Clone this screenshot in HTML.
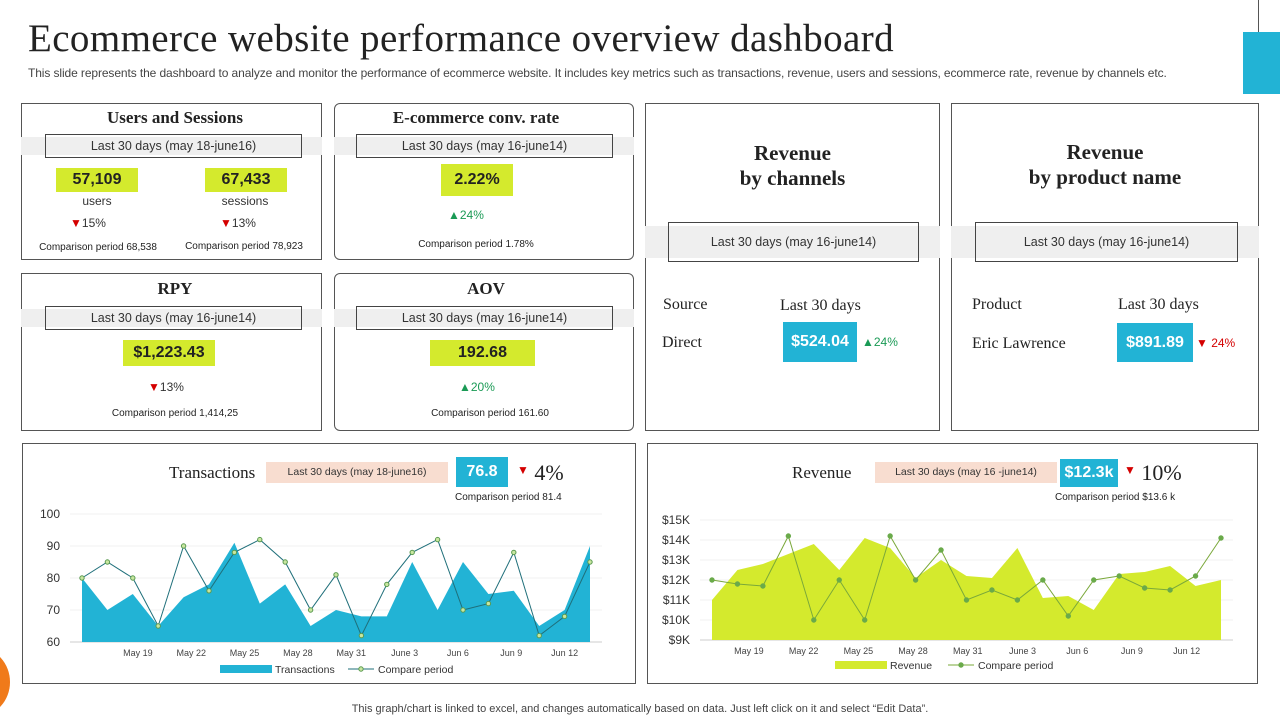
<!DOCTYPE html>
<html><head><meta charset="utf-8">
<style>
*{box-sizing:border-box;margin:0;padding:0}
body{width:1280px;height:720px;background:#fff;position:relative;overflow:hidden;font-family:"Liberation Sans",sans-serif;color:#222}
.a{position:absolute}
.serif{font-family:"Liberation Serif",serif}
.card{position:absolute;border:1px solid #555;background:#fff}
.band{position:absolute;background:#efefef;height:18px}
.dbox{position:absolute;border:1px solid #444;height:24px;font-size:12.5px;color:#333;text-align:center;line-height:22px;background:transparent}
.val{position:absolute;background:#d4ea2d;font-weight:bold;font-size:16px;text-align:center;color:#222}
.blue{position:absolute;background:#22b3d5;color:#fff;font-weight:bold;font-size:16px;text-align:center}
.small{position:absolute;font-size:10px;color:#222;text-align:center}
.up{color:#1a9a55}.dn{color:#d40000}
</style></head><body>
<div class="a serif" style="left:28px;top:16px;font-size:39px;letter-spacing:0.4px;color:#222">Ecommerce website performance overview dashboard</div>
<div class="a" style="left:28px;top:66px;font-size:12px;letter-spacing:-0.1px;color:#444">This slide represents the dashboard to analyze and monitor the performance of ecommerce website. It includes key metrics such as transactions, revenue, users and sessions, ecommerce rate, revenue by channels etc.</div>
<div class="a" style="left:1258px;top:-2px;width:30px;height:36px;border:1px solid #555"></div>
<div class="a" style="left:1243px;top:32px;width:40px;height:62px;background:#22b3d5"></div>
<div class="a" style="left:-52px;top:648px;width:62px;height:68px;border-radius:50%;background:#f07a1a"></div>

<!-- Users and sessions -->
<div class="card" style="left:21px;top:103px;width:301px;height:157px"></div>
<div class="a serif" style="left:21px;top:108px;width:308px;text-align:center;font-weight:bold;font-size:17px">Users and Sessions</div>
<div class="band" style="left:21px;top:137px;width:301px"></div>
<div class="dbox" style="left:45px;top:134px;width:257px">Last 30 days (may 18-june16)</div>
<div class="val" style="left:56px;top:168px;width:82px;height:24px;line-height:24px">57,109</div>
<div class="small" style="left:56px;top:194px;width:82px;font-size:12px;color:#333">users</div>
<div class="a" style="left:70px;top:216px;font-size:12px;color:#333"><span class="dn">▼</span>15%</div>
<div class="small" style="left:28px;top:242px;width:140px">Comparison period 68,538</div>
<div class="val" style="left:205px;top:168px;width:82px;height:24px;line-height:24px">67,433</div>
<div class="small" style="left:200px;top:194px;width:90px;font-size:12px;color:#333">sessions</div>
<div class="a" style="left:220px;top:216px;font-size:12px;color:#333"><span class="dn">▼</span>13%</div>
<div class="small" style="left:176px;top:241px;width:136px">Comparison period 78,923</div>

<!-- Conv rate -->
<div class="card" style="left:334px;top:103px;width:300px;height:157px;border-radius:6px"></div>
<div class="a serif" style="left:334px;top:108px;width:284px;text-align:center;font-weight:bold;font-size:17px">E-commerce conv. rate</div>
<div class="band" style="left:334px;top:137px;width:300px"></div>
<div class="dbox" style="left:356px;top:134px;width:257px">Last 30 days (may 16-june14)</div>
<div class="val" style="left:441px;top:164px;width:72px;height:32px;line-height:32px">2.22%</div>
<div class="a up" style="left:448px;top:208px;font-size:12px">▲24%</div>
<div class="small" style="left:396px;top:239px;width:160px">Comparison period 1.78%</div>

<!-- RPY -->
<div class="card" style="left:21px;top:273px;width:301px;height:158px"></div>
<div class="a serif" style="left:21px;top:279px;width:308px;text-align:center;font-weight:bold;font-size:17px">RPY</div>
<div class="band" style="left:21px;top:309px;width:301px"></div>
<div class="dbox" style="left:45px;top:306px;width:257px">Last 30 days (may 16-june14)</div>
<div class="val" style="left:123px;top:340px;width:92px;height:26px;line-height:26px">$1,223.43</div>
<div class="a" style="left:148px;top:380px;font-size:12px;color:#333"><span class="dn">▼</span>13%</div>
<div class="small" style="left:90px;top:408px;width:170px">Comparison period 1,414,25</div>

<!-- AOV -->
<div class="card" style="left:334px;top:273px;width:300px;height:158px;border-radius:6px"></div>
<div class="a serif" style="left:334px;top:279px;width:304px;text-align:center;font-weight:bold;font-size:17px">AOV</div>
<div class="band" style="left:334px;top:309px;width:300px"></div>
<div class="dbox" style="left:356px;top:306px;width:257px">Last 30 days (may 16-june14)</div>
<div class="val" style="left:430px;top:340px;width:105px;height:26px;line-height:26px">192.68</div>
<div class="a up" style="left:459px;top:380px;font-size:12px">▲20%</div>
<div class="small" style="left:410px;top:408px;width:160px">Comparison period 161.60</div>

<!-- Revenue by channels -->
<div class="card" style="left:645px;top:103px;width:295px;height:328px"></div>
<div class="a serif" style="left:645px;top:141px;width:295px;text-align:center;font-weight:bold;font-size:21px;line-height:25px">Revenue<br>by channels</div>
<div class="band" style="left:645px;top:226px;width:295px;height:32px"></div>
<div class="dbox" style="left:668px;top:222px;width:251px;height:40px;line-height:38px">Last 30 days (may 16-june14)</div>
<div class="a serif" style="left:663px;top:296px;font-size:16px">Source</div>
<div class="a serif" style="left:780px;top:297px;font-size:16px">Last 30 days</div>
<div class="a serif" style="left:662px;top:334px;font-size:16px">Direct</div>
<div class="blue" style="left:783px;top:322px;width:74px;height:40px;line-height:40px">$524.04</div>
<div class="a up" style="left:862px;top:335px;font-size:12px">▲24%</div>

<!-- Revenue by product -->
<div class="card" style="left:951px;top:103px;width:308px;height:328px"></div>
<div class="a serif" style="left:951px;top:140px;width:308px;text-align:center;font-weight:bold;font-size:21px;line-height:25px">Revenue<br>by product name</div>
<div class="band" style="left:951px;top:226px;width:308px;height:32px"></div>
<div class="dbox" style="left:975px;top:222px;width:263px;height:40px;line-height:38px">Last 30 days (may 16-june14)</div>
<div class="a serif" style="left:972px;top:296px;font-size:16px">Product</div>
<div class="a serif" style="left:1118px;top:296px;font-size:16px">Last 30 days</div>
<div class="a serif" style="left:972px;top:335px;font-size:16px">Eric Lawrence</div>
<div class="blue" style="left:1117px;top:323px;width:76px;height:39px;line-height:39px">$891.89</div>
<div class="a dn" style="left:1196px;top:336px;font-size:12px">▼ 24%</div>

<!-- Transactions chart card -->
<div class="card" style="left:22px;top:443px;width:614px;height:241px"></div>
<div class="a serif" style="left:169px;top:463px;font-size:17px">Transactions</div>
<div class="a" style="left:266px;top:462px;width:182px;height:21px;background:#f8ddd0;font-size:10.5px;line-height:21px;text-align:center;color:#333">Last 30 days (may 18-june16)</div>
<div class="blue" style="left:456px;top:457px;width:52px;height:30px;line-height:30px">76.8</div>
<div class="a serif" style="left:517px;top:460px;font-size:22px"><span class="dn" style="font-size:12px;vertical-align:6px">▼</span> 4%</div>
<div class="small" style="left:455px;top:492px;width:120px;text-align:left">Comparison period 81.4</div>

<!-- Revenue chart card -->
<div class="card" style="left:647px;top:443px;width:611px;height:241px"></div>
<div class="a serif" style="left:792px;top:463px;font-size:17px">Revenue</div>
<div class="a" style="left:875px;top:462px;width:182px;height:21px;background:#f8ddd0;font-size:10.5px;line-height:21px;text-align:center;color:#333">Last 30 days (may 16 -june14)</div>
<div class="blue" style="left:1060px;top:459px;width:58px;height:28px;line-height:28px">$12.3k</div>
<div class="a serif" style="left:1124px;top:460px;font-size:22px"><span class="dn" style="font-size:12px;vertical-align:6px">▼</span> 10%</div>
<div class="small" style="left:1055px;top:492px;width:140px;text-align:left">Comparison period $13.6 k</div>

<svg id="charts" class="a" style="left:0;top:0" width="1280" height="720"></svg>

<div class="a" style="left:0;top:703px;width:1280px;text-align:center;font-size:11px;color:#444">This graph/chart is linked to excel,  and changes automatically based on data. Just left click on it and select “Edit Data”.</div>

<script>
const txnValues=[80,70,75,65,74,78,91,72,78,65,70,68,68,85,70,85,75,76,65,70,90];
const txnCompare=[80,85,80,65,90,76,88,92,85,70,81,62,78,88,92,70,72,88,62,68,85];
const txnTicks=[60,70,80,90,100];
const revValues=[11.0,12.5,12.8,13.3,13.8,12.5,14.1,13.6,12.1,13.0,12.2,12.1,13.6,11.1,11.2,10.5,12.3,12.4,12.7,11.7,12.0];
const revCompare=[12.0,11.8,11.7,14.2,10.0,12.0,10.0,14.2,12.0,13.5,11.0,11.5,11.0,12.0,10.2,12.0,12.2,11.6,11.5,12.2,14.1];
const revTicks=[9,10,11,12,13,14,15];
const dateLabels=["May 19","May 22","May 25","May 28","May 31","June 3","Jun 6","Jun 9","Jun 12"];

const svg=document.getElementById('charts');
const NS='http://www.w3.org/2000/svg';
function mk(tag,attrs){const e=document.createElementNS(NS,tag);for(const k in attrs)e.setAttribute(k,attrs[k]);svg.appendChild(e);return e;}

function drawChart(o){
  const n=o.values.length;
  const xs=i=>o.x0+(o.x1-o.x0)*i/(n-1);
  const ys=v=>o.yb+(o.yt-o.yb)*(v-o.min)/(o.max-o.min);
  o.ticks.forEach(t=>{
    const g=mk('line',{x1:o.gx0,x2:o.gx1,y1:ys(t),y2:ys(t),stroke:t===o.min?'#ccc':'#f0f0f0','stroke-width':1});
    
    
    const tl=mk('text',{x:o.tx,y:ys(t)+4,'text-anchor':'end','font-size':12,fill:'#333','font-family':'Liberation Sans, sans-serif'});
    tl.textContent=o.fmt(t);
    
    
  });
  let d='M'+xs(0)+','+ys(o.min);
  o.values.forEach((v,i)=>d+=' L'+xs(i)+','+ys(v));
  d+=' L'+xs(n-1)+','+ys(o.min)+' Z';
  const area=mk('path',{d:d,fill:o.color});
  
  
  const pts=o.compare.map((v,i)=>xs(i)+','+ys(v)).join(' ');
  const line=mk('polyline',{points:pts,fill:'none',stroke:o.lineColor,'stroke-width':1});
  
  
  o.compare.forEach((v,i)=>{
    const c=mk('circle',{cx:xs(i),cy:ys(v),r:2.2,fill:o.dotFill,stroke:o.dotStroke,'stroke-width':1});
    
    
  });
  dateLabels.forEach((lab,k)=>{
    const t=mk('text',{x:xs(o.lab0+o.labStep*k),y:o.yb+14,'text-anchor':'middle','font-size':9,fill:'#444','font-family':'Liberation Sans, sans-serif'});
    t.textContent=lab;
    
    
  });
  const lr=mk('rect',{x:o.legX,y:o.legY-4,width:52,height:8,fill:o.color});
  
  
  const lt=mk('text',{x:o.legX+55,y:o.legY+4,'font-size':10.5,fill:'#333','font-family':'Liberation Sans, sans-serif'});
  lt.textContent=o.legA;
  
  
  const ll=mk('line',{x1:o.legX2,x2:o.legX2+26,y1:o.legY,y2:o.legY,stroke:o.lineColor});
  
  
  const lc=mk('circle',{cx:o.legX2+13,cy:o.legY,r:2.2,fill:o.dotFill,stroke:o.dotStroke});
  
  
  const lt2=mk('text',{x:o.legX2+30,y:o.legY+4,'font-size':10.5,fill:'#333','font-family':'Liberation Sans, sans-serif'});
  lt2.textContent='Compare period';
  
  
}
drawChart({name:'transactions',values:txnValues,compare:txnCompare,ticks:txnTicks,min:60,max:100,
  x0:82,x1:590,yb:642,yt:514,gx0:70,gx1:602,tx:60,fmt:t=>String(t),color:'#22b3d5',lineColor:'#1f6f7a',
  dotFill:'#c8e6a0',dotStroke:'#5a9a50',lab0:2.2,labStep:2.1,legX:220,legY:669,legX2:348,legA:'Transactions'});
drawChart({name:'revenue',values:revValues,compare:revCompare,ticks:revTicks,min:9,max:15,
  x0:712,x1:1221,yb:640,yt:520,gx0:700,gx1:1233,tx:690,fmt:t=>'$'+t+'K',color:'#d4ea2d',lineColor:'#7aa83a',
  dotFill:'#6aaa4a',dotStroke:'#6aaa4a',lab0:1.45,labStep:2.15,legX:835,legY:665,legX2:948,legA:'Revenue'});
</script>
</body></html>
